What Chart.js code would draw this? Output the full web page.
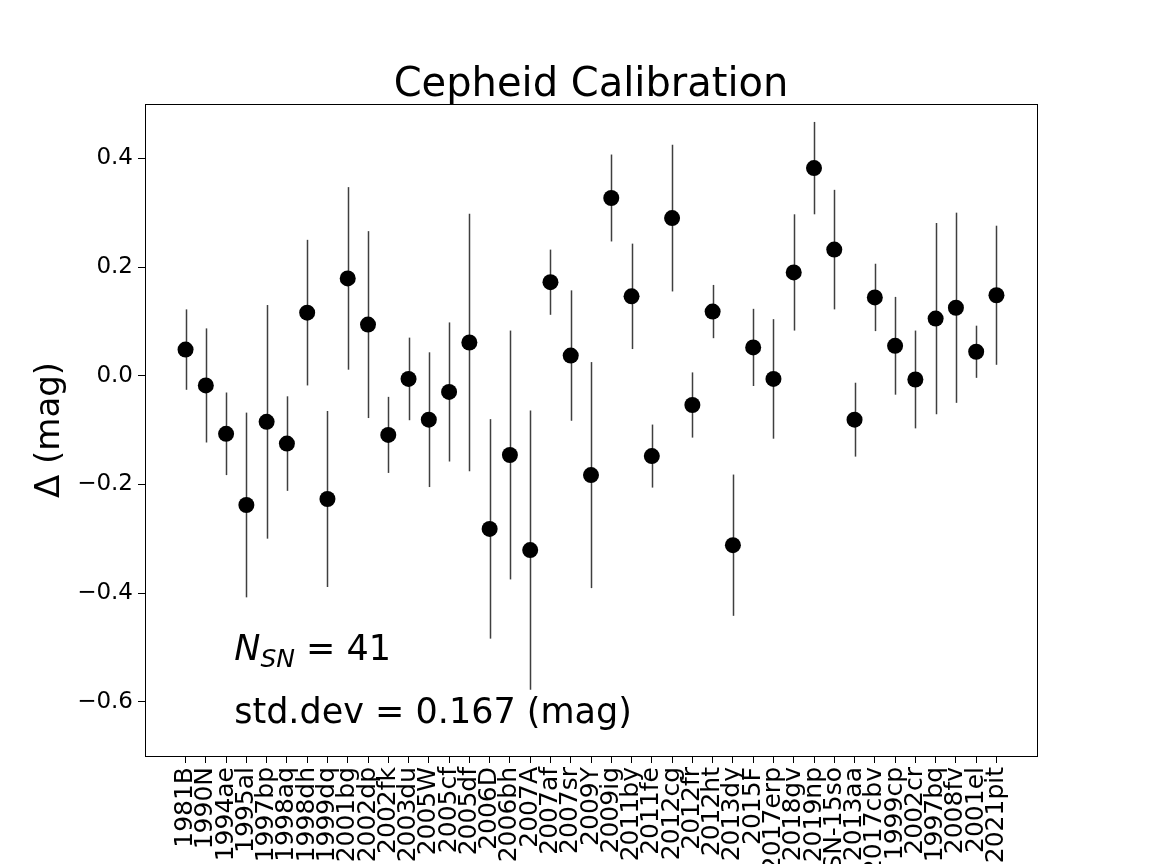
<!DOCTYPE html>
<html>
<head>
<meta charset="utf-8">
<script src="https://cdn.jsdelivr.net/npm/chart.js@4"></script>
<style>
  html, body { margin: 0; padding: 0; background: #fff; }
</style>
</head>
<body>
<canvas id="grafico" width="1152" height="864"></canvas>
<script>
// supernove (categorie sull'asse x)
const supernove = ["1981B", "1990N", "1994ae", "1995al", "1997bp", "1998aq", "1998dh", "1999dq",
  "2001bg", "2002dp", "2002fk", "2003du", "2005W", "2005cf", "2005df", "2006D", "2006bh", "2007A",
  "2007af", "2007sr", "2009Y", "2009ig", "2011by", "2011fe", "2012cg", "2012fr", "2012ht", "2013dy",
  "2015F", "2017erp", "2018gv", "2019np", "ASASSN-15so", "2013aa", "2017cbv", "1999cp", "2002cr",
  "1997bq", "2008fv", "2001el", "2021pit"];
// delta in magnitudini
const delta = [0.048, -0.018, -0.107, -0.238, -0.085, -0.125, 0.116, -0.227, 0.179, 0.094, -0.109,
  -0.006, -0.081, -0.030, 0.061, -0.282, -0.146, -0.321, 0.172, 0.037, -0.183, 0.327, 0.146, -0.148,
  0.290, -0.054, 0.118, -0.312, 0.052, -0.006, 0.190, 0.382, 0.232, -0.081, 0.144, 0.055, -0.007,
  0.105, 0.125, 0.044, 0.148];
// errori (barre simmetriche)
const errori = [0.074, 0.105, 0.076, 0.170, 0.215, 0.087, 0.134, 0.162, 0.168, 0.172, 0.070,
  0.076, 0.124, 0.128, 0.237, 0.202, 0.229, 0.257, 0.060, 0.120, 0.208, 0.080, 0.097, 0.058,
  0.135, 0.060, 0.049, 0.130, 0.071, 0.110, 0.107, 0.085, 0.110, 0.068, 0.062, 0.090, 0.090,
  0.176, 0.175, 0.048, 0.128];
const tickY = [-0.6, -0.4, -0.2, 0.0, 0.2, 0.4];

const titolo = "Cepheid Calibration";
const testoStd = "std.dev = 0.167 (mag)";
const font = "DejaVu Sans";

let punti = delta.map((d, i) => ({ x: i, y: d }));

// barre di errore + testi + cornice
const extra = {
  id: 'extra',
  beforeDatasetsDraw(chart) {
    const c = chart.ctx, xs = chart.scales.x, ys = chart.scales.y;
    c.save();
    c.strokeStyle = '#3f3f3f';
    c.lineWidth = 1.5;
    for (let i = 0; i < delta.length; i++) {
      const px = Math.round(xs.getPixelForValue(i)) + 0.5;
      c.beginPath();
      c.moveTo(px, ys.getPixelForValue(delta[i] + errori[i]));
      c.lineTo(px, ys.getPixelForValue(delta[i] - errori[i]));
      c.stroke();
    }
    c.restore();
  },
  afterDraw(chart) {
    const c = chart.ctx, a = chart.chartArea;
    c.save();
    c.strokeStyle = '#000';
    c.lineWidth = 1;
    c.strokeRect(a.left + 0.5, a.top + 0.5, a.right - a.left, a.bottom - a.top);

    c.fillStyle = '#000';
    c.textAlign = 'center';
    c.textBaseline = 'alphabetic';
    c.font = '40px "' + font + '"';
    c.fillText(titolo, (a.left + a.right) / 2, 96);

    // etichetta asse y
    c.save();
    c.translate(50, (a.top + a.bottom) / 2);
    c.rotate(-Math.PI / 2);
    c.textBaseline = 'middle';
    c.font = '34px "' + font + '"';
    c.fillText("\u0394 (mag)", 0, 0);
    c.restore();

    // annotazioni
    const x0 = a.left + 0.1 * (a.right - a.left);
    const h = a.bottom - a.top;
    c.textAlign = 'left';
    let y1 = a.bottom - 0.147 * h;
    c.font = 'italic 35px "' + font + '"';
    c.fillText("N", x0, y1);
    let w = c.measureText("N").width;
    c.font = 'italic 25px "' + font + '"';
    c.fillText("SN", x0 + w, y1 + 7);
    w += c.measureText("SN").width;
    c.font = '35px "' + font + '"';
    c.fillText(" = 41", x0 + w, y1);
    c.fillText(testoStd, x0, a.bottom - 0.05 * h);
    c.restore();
  }
};

let g = document.getElementById('grafico');

new Chart(g, {
  type: 'scatter',
  data: {
    datasets: [{
      data: punti,
      pointRadius: 8,
      pointHoverRadius: 8,
      pointBackgroundColor: '#000',
      pointBorderColor: '#000',
      pointBorderWidth: 0
    }]
  },
  options: {
    responsive: false,
    animation: false,
    layout: { padding: { top: 104, right: 115, left: 0, bottom: 0 } },
    plugins: { legend: { display: false }, tooltip: { enabled: false } },
    scales: {
      x: {
        type: 'linear',
        min: -2,
        max: 42,
        afterBuildTicks: s => { s.ticks = supernove.map((_, i) => ({ value: i })); },
        afterFit: s => { s.height = 108; },
        grid: { drawOnChartArea: false, tickLength: 7, color: '#000' },
        border: { color: '#000' },
        ticks: {
          autoSkip: false,
          maxRotation: 90,
          minRotation: 90,
          padding: 4,
          color: '#000',
          font: { family: font, size: 25 },
          callback: v => supernove[v]
        }
      },
      y: {
        min: -0.70,
        max: 0.50,
        afterBuildTicks: s => { s.ticks = tickY.map(v => ({ value: v })); },
        afterFit: s => { s.width = 145; },
        grid: { drawOnChartArea: false, tickLength: 7, color: '#000' },
        border: { color: '#000' },
        ticks: {
          padding: 5,
          color: '#000',
          font: { family: font, size: 23 },
          callback: v => (v < 0 ? '\u2212' : '') + Math.abs(v).toFixed(1)
        }
      }
    }
  },
  plugins: [extra]
});
</script>
</body>
</html>
